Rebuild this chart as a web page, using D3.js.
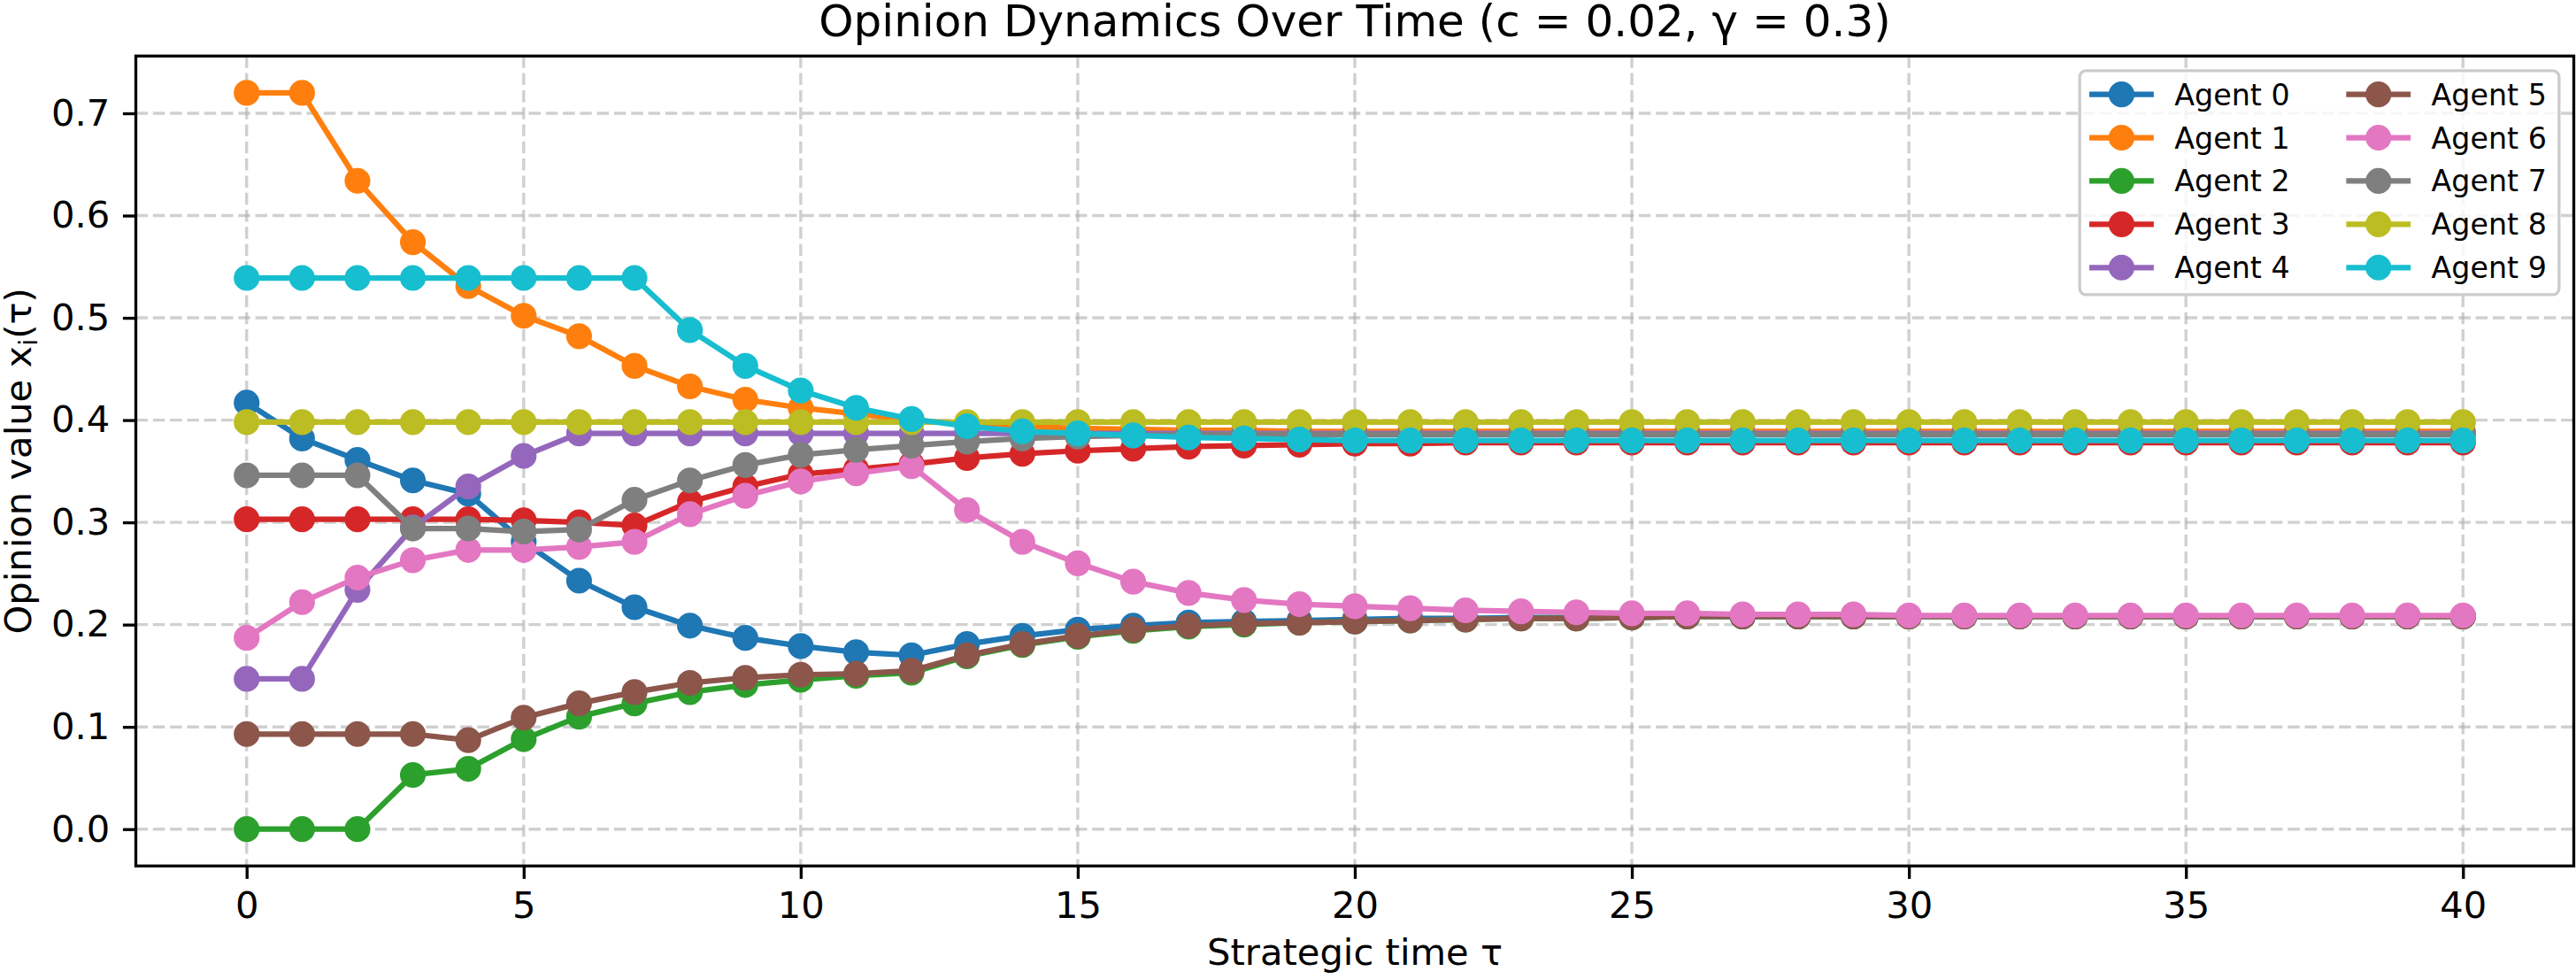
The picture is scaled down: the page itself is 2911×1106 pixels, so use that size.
<!DOCTYPE html>
<html>
<head>
<meta charset="utf-8">
<script src="https://cdn.jsdelivr.net/npm/d3@7"></script>
<style>
  body { margin: 0; background: #fff; }
  text { font-family: "DejaVu Sans", sans-serif; }
</style>
</head>
<body>
<svg id="chart" width="2911" height="1106"></svg>
<script>
// opinion of each agent at strategic times 0..40
const agent0 = [0.417,0.382,0.361,0.341,0.328,0.281,0.243,0.217,0.199,0.187,0.179,0.173,0.170,0.181,0.189,0.195,0.199,0.202,0.203,0.204,0.205,0.206,0.206,0.207,0.207,0.207,0.208,0.208,0.208,0.208,0.208,0.208,0.208,0.208,0.208,0.208,0.208,0.208,0.208,0.208,0.208];
const agent1 = [0.720,0.720,0.634,0.574,0.531,0.502,0.482,0.453,0.433,0.420,0.412,0.406,0.400,0.396,0.394,0.392,0.391,0.390,0.390,0.389,0.389,0.389,0.389,0.389,0.389,0.389,0.389,0.389,0.389,0.389,0.389,0.389,0.389,0.389,0.389,0.389,0.389,0.389,0.389,0.389,0.389];
const agent2 = [0.000,0.000,0.000,0.053,0.059,0.088,0.110,0.123,0.134,0.141,0.146,0.150,0.153,0.169,0.180,0.188,0.194,0.198,0.200,0.202,0.203,0.204,0.205,0.206,0.206,0.207,0.208,0.208,0.208,0.208,0.208,0.208,0.208,0.208,0.208,0.208,0.208,0.208,0.208,0.208,0.208];
const agent3 = [0.303,0.303,0.303,0.303,0.303,0.302,0.300,0.297,0.320,0.335,0.347,0.352,0.357,0.363,0.367,0.370,0.372,0.374,0.375,0.376,0.377,0.377,0.378,0.378,0.378,0.378,0.378,0.378,0.378,0.378,0.378,0.378,0.378,0.378,0.378,0.378,0.378,0.378,0.378,0.378,0.378];
const agent4 = [0.147,0.147,0.234,0.295,0.335,0.365,0.387,0.387,0.387,0.387,0.387,0.387,0.387,0.387,0.387,0.387,0.387,0.387,0.387,0.387,0.387,0.387,0.387,0.387,0.387,0.387,0.387,0.387,0.387,0.387,0.387,0.387,0.387,0.387,0.387,0.387,0.387,0.387,0.387,0.387,0.387];
const agent5 = [0.093,0.093,0.093,0.093,0.087,0.109,0.123,0.134,0.143,0.148,0.151,0.152,0.155,0.170,0.181,0.189,0.195,0.199,0.201,0.202,0.203,0.204,0.205,0.206,0.206,0.207,0.208,0.208,0.208,0.208,0.208,0.208,0.208,0.208,0.208,0.208,0.208,0.208,0.208,0.208,0.208];
const agent6 = [0.187,0.222,0.246,0.263,0.273,0.273,0.276,0.281,0.308,0.326,0.340,0.348,0.355,0.312,0.281,0.260,0.242,0.231,0.224,0.220,0.218,0.216,0.214,0.213,0.212,0.211,0.211,0.210,0.210,0.210,0.209,0.209,0.209,0.209,0.209,0.209,0.209,0.209,0.209,0.209,0.209];
const agent7 = [0.346,0.346,0.346,0.294,0.294,0.291,0.293,0.322,0.341,0.356,0.366,0.371,0.375,0.379,0.382,0.384,0.385,0.386,0.386,0.386,0.386,0.386,0.386,0.386,0.386,0.386,0.386,0.386,0.386,0.386,0.386,0.386,0.386,0.386,0.386,0.386,0.386,0.386,0.386,0.386,0.386];
const agent8 = [0.398,0.398,0.398,0.398,0.398,0.398,0.398,0.398,0.398,0.398,0.398,0.398,0.398,0.398,0.398,0.398,0.398,0.398,0.398,0.398,0.398,0.398,0.398,0.398,0.398,0.398,0.398,0.398,0.398,0.398,0.398,0.398,0.398,0.398,0.398,0.398,0.398,0.398,0.398,0.398,0.398];
const agent9 = [0.539,0.539,0.539,0.539,0.539,0.539,0.539,0.539,0.488,0.453,0.429,0.412,0.401,0.394,0.389,0.387,0.385,0.383,0.382,0.381,0.380,0.380,0.380,0.380,0.380,0.380,0.380,0.380,0.380,0.380,0.380,0.380,0.380,0.380,0.380,0.380,0.380,0.380,0.380,0.380,0.380];

const agentNames = ["Agent 0","Agent 1","Agent 2","Agent 3","Agent 4","Agent 5","Agent 6","Agent 7","Agent 8","Agent 9"];
const xTicks = [0, 5, 10, 15, 20, 25, 30, 35, 40];
const yTicks = [0.0, 0.1, 0.2, 0.3, 0.4, 0.5, 0.6, 0.7];

const series = [agent0, agent1, agent2, agent3, agent4, agent5, agent6, agent7, agent8, agent9];
const steps = agent0.map((_, i) => i);
const colors = d3.schemeCategory10;

const W = 2911, H = 1106;
const margin = {top: 63.3, right: 2.5, bottom: 127.7, left: 153.5};
const width = W - margin.left - margin.right,
      height = H - margin.top - margin.bottom;
const fs = 41.67;     // 10pt at 300 dpi

const svg = d3.select("#chart");
svg.append("rect").attr("width", W).attr("height", H).attr("fill", "#fff");

// matplotlib style 5% margins
const xExt = d3.extent(steps), xPad = (xExt[1] - xExt[0]) * 0.05;
const yExt = [d3.min(series, s => d3.min(s)), d3.max(series, s => d3.max(s))],
      yPad = (yExt[1] - yExt[0]) * 0.05;

const x = d3.scaleLinear()
    .domain([xExt[0] - xPad, xExt[1] + xPad])
    .range([margin.left, margin.left + width]);
const y = d3.scaleLinear()
    .domain([yExt[0] - yPad, yExt[1] + yPad])
    .range([margin.top + height, margin.top]);

// grid
const grid = svg.append("g")
    .attr("stroke", "#b0b0b0").attr("stroke-opacity", 0.6)
    .attr("stroke-width", 3.4).attr("stroke-dasharray", "13.5,5.8");
grid.selectAll("line.gx").data(xTicks).enter().append("line")
    .attr("x1", d => x(d)).attr("x2", d => x(d))
    .attr("y1", margin.top).attr("y2", margin.top + height);
grid.selectAll("line.gy").data(yTicks).enter().append("line")
    .attr("y1", d => y(d)).attr("y2", d => y(d))
    .attr("x1", margin.left).attr("x2", margin.left + width);

// lines + markers
const line = d3.line()
    .x((d, i) => x(steps[i]))
    .y(d => y(d));

series.forEach(function(s, k) {
    const g = svg.append("g").attr("class", "agent");
    g.append("path")
        .datum(s)
        .attr("d", line)
        .attr("fill", "none")
        .attr("stroke", colors[k])
        .attr("stroke-width", 6.25)
        .attr("stroke-linejoin", "round")
        .attr("stroke-linecap", "butt");
    g.selectAll("circle")
        .data(s)
        .enter()
        .append("circle")
        .attr("cx", (d, i) => x(steps[i]))
        .attr("cy", d => y(d))
        .attr("r", 12.5)
        .attr("fill", colors[k])
        .attr("stroke", colors[k])
        .attr("stroke-width", 4.17);
});

// axes
function styleAxis(g) {
    g.select(".domain").remove();
    g.attr("font-family", "DejaVu Sans").attr("font-size", fs);
    g.selectAll(".tick line").attr("stroke", "#000").attr("stroke-width", 3.33);
    g.selectAll(".tick text").attr("fill", "#000");
}
svg.append("g")
    .attr("transform", "translate(0," + (margin.top + height) + ")")
    .call(d3.axisBottom(x).tickValues(xTicks).tickSize(14.6).tickPadding(14.6).tickFormat(d3.format("d")))
    .call(styleAxis);
svg.append("g")
    .attr("transform", "translate(" + margin.left + ",0)")
    .call(d3.axisLeft(y).tickValues(yTicks).tickSize(14.6).tickPadding(14.6).tickFormat(d3.format(".1f")))
    .call(styleAxis);

// spines
svg.append("rect")
    .attr("x", margin.left).attr("y", margin.top)
    .attr("width", width).attr("height", height)
    .attr("fill", "none").attr("stroke", "#000").attr("stroke-width", 3.33);

// title and labels
svg.append("text")
    .attr("x", margin.left + width / 2).attr("y", 41)
    .attr("text-anchor", "middle").attr("font-size", 50)
    .text("Opinion Dynamics Over Time (c = 0.02, γ = 0.3)");

svg.append("text")
    .attr("x", margin.left + width / 2).attr("y", 1090)
    .attr("text-anchor", "middle").attr("font-size", fs)
    .text("Strategic time τ");

const yl = svg.append("text")
    .attr("transform", "translate(35," + (margin.top + height / 2) + ") rotate(-90)")
    .attr("text-anchor", "middle").attr("font-size", fs);
yl.append("tspan").text("Opinion value x");
yl.append("tspan").attr("font-size", fs * 0.7).attr("dy", 7).text("i");
yl.append("tspan").attr("dy", -7).text("(τ)");

// legend, upper right, two columns
const lfs = 33.3,
      lPad = lfs * 0.5,
      lW = 541.7, lH = 253,
      lRight = margin.left + width - lPad,
      lTop = margin.top + lPad,
      lLeft = lRight - lW,
      rowH = 48.9, colW = 290.3;
const legend = svg.append("g");
legend.append("rect")
    .attr("x", lLeft).attr("y", lTop).attr("width", lW).attr("height", lH)
    .attr("rx", 7).attr("ry", 7)
    .attr("fill", "#fff").attr("fill-opacity", 0.8)
    .attr("stroke", "#cccccc").attr("stroke-width", 3.33);

const items = legend.selectAll("g.item")
    .data(agentNames)
    .enter()
    .append("g")
    .attr("transform", (d, i) => "translate(" + (lLeft + Math.floor(i / 5) * colW) + "," + (lTop + 26.7 + (i % 5) * rowH) + ")");
items.append("line")
    .attr("x1", 10.9).attr("x2", 83.7)
    .attr("stroke", (d, i) => colors[i]).attr("stroke-width", 6.25);
items.append("circle")
    .attr("cx", 47.3).attr("r", 12.5)
    .attr("fill", (d, i) => colors[i])
    .attr("stroke", (d, i) => colors[i]).attr("stroke-width", 4.17);
items.append("text")
    .attr("x", 107.1).attr("dy", "0.36em")
    .attr("font-size", lfs)
    .text(d => d);
</script>
</body>
</html>
